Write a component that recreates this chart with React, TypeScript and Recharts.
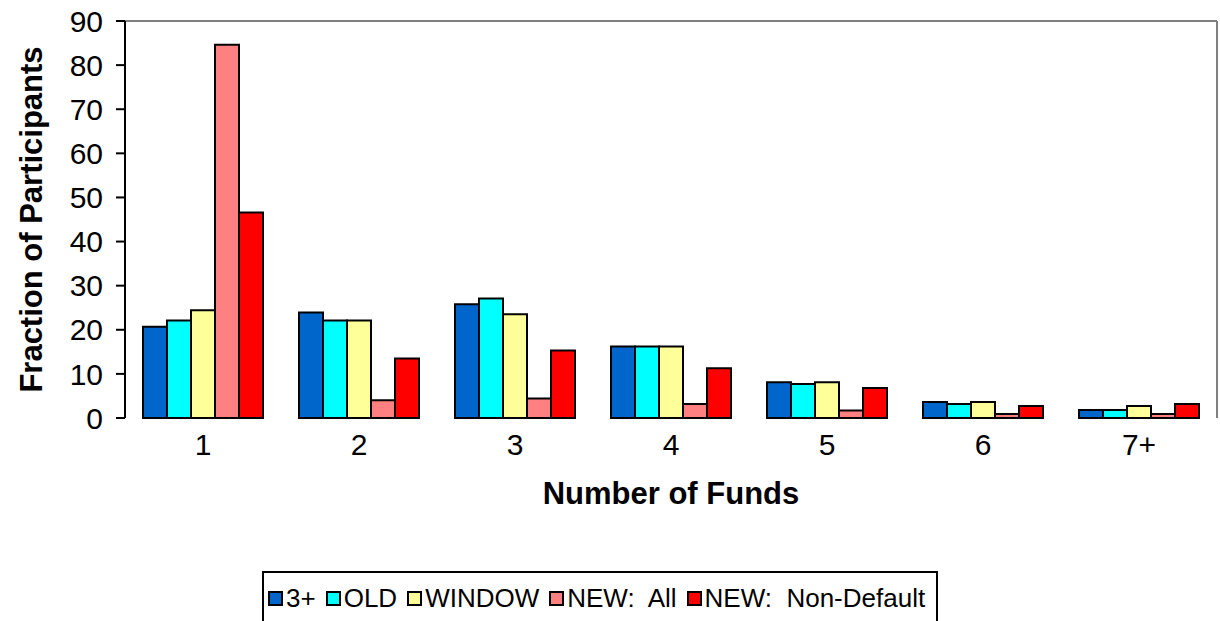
import React from "react";
import {
  BarChart,
  Bar,
  XAxis,
  YAxis,
  Legend,
  ReferenceLine,
} from "recharts";

const categories = ["1", "2", "3", "4", "5", "6", "7+"];

const threePlus = [20.7, 23.9, 25.8, 16.2, 8.1, 3.6, 1.8];
const oldPlan = [22.1, 22.1, 27.1, 16.2, 7.7, 3.2, 1.8];
const windowPlan = [24.4, 22.1, 23.5, 16.2, 8.1, 3.6, 2.7];
const newAll = [84.6, 4.0, 4.4, 3.2, 1.7, 0.9, 0.9];
const newNonDefault = [46.6, 13.5, 15.3, 11.3, 6.8, 2.7, 3.2];

const yTicks = [0, 10, 20, 30, 40, 50, 60, 70, 80, 90];
const boundaryTicks = [0, 1, 2, 3, 4, 5, 6, 7];

const series = [
  { key: "threePlus", name: "3+", color: "#0066CC" },
  { key: "old", name: "OLD", color: "#00FFFF" },
  { key: "window", name: "WINDOW", color: "#FFFF99" },
  { key: "newAll", name: "NEW:  All", color: "#FF8080" },
  { key: "newNonDefault", name: "NEW:  Non-Default", color: "#FF0000" },
];

const data = categories.map((funds, i) => ({
  funds,
  threePlus: threePlus[i],
  old: oldPlan[i],
  window: windowPlan[i],
  newAll: newAll[i],
  newNonDefault: newNonDefault[i],
}));

const FONT = '"Liberation Sans", Arial, sans-serif';

// legend drawn as a boxed row, like the Excel original
function LegendBox() {
  return (
    <div
      style={{
        border: "2px solid #000",
        boxSizing: "border-box",
        height: 60,
        padding: "12px 0 0 4px",
        display: "flex",
        alignItems: "flex-start",
        fontFamily: FONT,
        fontSize: 26,
        lineHeight: "27px",
        color: "#000",
        whiteSpace: "nowrap",
      }}
    >
      {series.map((s) => (
        <div
          key={s.key}
          style={{ display: "flex", alignItems: "center", marginRight: 10 }}
        >
          <span
            style={{
              width: 15,
              height: 15,
              boxSizing: "border-box",
              background: s.color,
              border: "2px solid #000",
              marginRight: 3,
            }}
          />
          <span style={{ whiteSpace: "pre" }}>{s.name}</span>
        </div>
      ))}
    </div>
  );
}

export default function App() {
  return (
    <div style={{ position: "absolute", left: 0, top: 0 }}>
      <BarChart
        width={1220}
        height={621}
        data={data}
        margin={{ top: 21, right: 0, bottom: 0, left: 0 }}
        barCategoryGap={18}
        barGap={0}
      >
        {/* boundary ticks, Excel style */}
        <XAxis
          xAxisId="grid"
          type="number"
          domain={[0, 7]}
          ticks={boundaryTicks}
          allowDataOverflow
          height={0}
          tick={() => <g />}
          tickSize={9}
          axisLine={{ stroke: "#000", strokeWidth: 2 }}
          tickLine={{ stroke: "#000", strokeWidth: 2 }}
        />
        <XAxis
          xAxisId="cat"
          dataKey="funds"
          height={203}
          axisLine={false}
          tickLine={false}
          tickSize={0}
          tickMargin={16}
          tick={{ fill: "#000", fontSize: 30, fontFamily: FONT }}
          label={({ viewBox }: any) => (
            <text
              x={viewBox.x + viewBox.width / 2}
              y={viewBox.y + 86}
              textAnchor="middle"
              fontSize={31}
              fontWeight="bold"
              fontFamily={FONT}
              fill="#000"
            >
              Number of Funds
            </text>
          )}
        />
        <YAxis
          yAxisId="left"
          width={125}
          domain={[0, 90]}
          ticks={yTicks}
          interval={0}
          tickSize={9}
          tickMargin={13}
          axisLine={{ stroke: "#000", strokeWidth: 2 }}
          tickLine={{ stroke: "#000", strokeWidth: 2 }}
          tick={{ fill: "#000", fontSize: 30, fontFamily: FONT }}
          label={({ viewBox }: any) => {
            const cy = viewBox.y + viewBox.height / 2;
            return (
              <text
                x={42}
                y={cy}
                transform={`rotate(-90, 42, ${cy})`}
                textAnchor="middle"
                fontSize={31}
                fontWeight="bold"
                fontFamily={FONT}
                fill="#000"
              >
                Fraction of Participants
              </text>
            );
          }}
        />
        <YAxis
          yAxisId="right"
          orientation="right"
          width={3}
          domain={[0, 90]}
          tick={false}
          tickLine={false}
          axisLine={{ stroke: "#808080", strokeWidth: 2 }}
        />
        <ReferenceLine
          y={90}
          yAxisId="left"
          xAxisId="cat"
          stroke="#808080"
          strokeWidth={2}
        />

        {series.map((s) => (
          <Bar
            key={s.key}
            dataKey={s.key}
            name={s.name}
            xAxisId="cat"
            yAxisId="left"
            fill={s.color}
            stroke="#000"
            strokeWidth={2}
            isAnimationActive={false}
          />
        ))}

        <Legend
          layout="horizontal"
          verticalAlign="middle"
          align="center"
          wrapperStyle={{ left: 262, top: 571, width: 676, height: 60 }}
          content={() => <LegendBox />}
        />
      </BarChart>
    </div>
  );
}
